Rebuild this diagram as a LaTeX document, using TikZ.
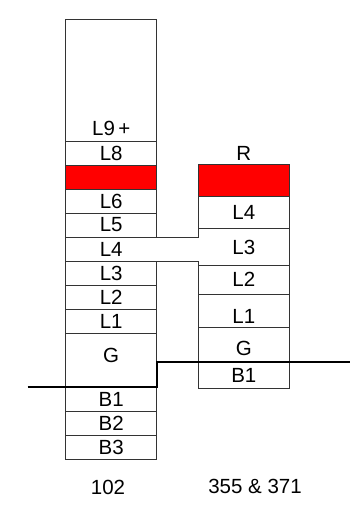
\documentclass[tikz,border=0pt]{standalone}
\usepackage{fontspec}
\setmainfont{Liberation Sans}
\usetikzlibrary{positioning}

\begin{document}
\begin{tikzpicture}[x=1pt,y=-1pt, node distance=0pt,
  bed/.style={draw=black!80,line width=0.8pt,minimum width=91pt,inner sep=0pt,outer sep=0pt},
  marker/.style={bed,fill=red},
  openbed/.style={bed,draw=none},
  bedline/.style={draw=black!80,line width=0.8pt},
  surface/.style={line width=2.3pt,black},
  every node/.style={font=\fontsize{20.5}{23}\selectfont}]
\useasboundingbox (0,0) rectangle (350,517);
\node[bed,minimum height=122pt,anchor=north west,label={[above=5.5pt,inner sep=0pt]south:L9\,+}] (a9) at (65.7,19) {};
\node[bed,minimum height=24pt,below=of a9] (a8) {L8};
\node[marker,minimum height=24pt,below=of a8] (a7) {};
\node[bed,minimum height=24pt,below=of a7] (a6) {L6};
\node[bed,minimum height=24pt,below=of a6] (a5) {L5};
\node[openbed,minimum height=24pt,below=of a5] (a4) {L4};
\node[bed,minimum height=24pt,below=of a4] (a3) {L3};
\node[bed,minimum height=24pt,below=of a3] (a2) {L2};
\node[bed,minimum height=24pt,below=of a2] (a1) {L1};
\node[bed,minimum height=54pt,below=of a1,label={[yshift=5pt]center:G}] (ag) {};
\node[bed,minimum height=24pt,below=of ag] (ab1) {B1};
\node[bed,minimum height=24pt,below=of ab1] (ab2) {B2};
\node[bed,minimum height=24pt,below=of ab2] (ab3) {B3};

\node[marker,minimum height=32pt,anchor=north west] (r7) at (198.3,164.5) {};
\node[bed,minimum height=32pt,below=of r7] (r4) {L4};
\node[openbed,minimum height=37pt,below=of r4] (r3) {L3};
\node[bed,minimum height=28.5pt,below=of r3] (r2) {L2};
\node[bed,minimum height=33pt,below=of r2,label={[yshift=-6pt]center:L1}] (r1) {};
\node[bed,minimum height=35pt,below=of r1,label={[yshift=-3.5pt]center:G}] (rg) {};
\node[bed,minimum height=26pt,below=of rg] (rb1) {B1};
\node[above=4pt of r7,inner sep=0pt] (rt) {R};

\draw[bedline] (a4.north west) -- (a4.south west);
\draw[bedline] (a4.north east) -- (a4.north east -| r3.west) -- (r3.north west);
\draw[bedline] (a4.south east) -- (a4.south east -| r3.west) -- (r3.south west);
\draw[bedline] (r3.north east) -- (r3.south east);

\coordinate (w) at (27.7,387);
\coordinate (e) at (350,362);
\draw[surface] (w) -- (ag.south west) -- (ag.south east) |- (rg.south east) -- (e);

\node (s1) at (108,487) {102};
\node (s2) at (255,486) {355 \& 371};
\end{tikzpicture}
\end{document}
